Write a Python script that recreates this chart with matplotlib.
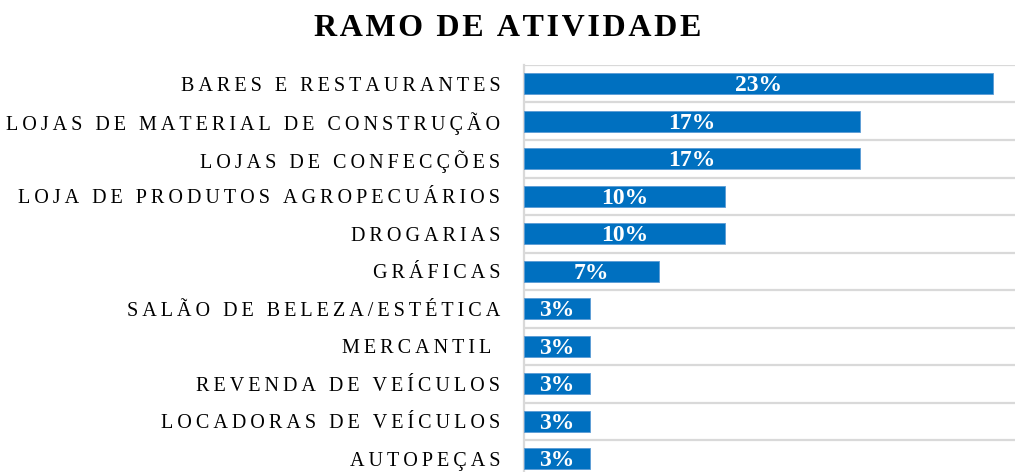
import matplotlib.pyplot as plt

categories = [
    "BARES E RESTAURANTES",
    "LOJAS DE MATERIAL DE CONSTRUÇÃO",
    "LOJAS DE CONFECÇÕES",
    "LOJA DE PRODUTOS AGROPECUÁRIOS",
    "DROGARIAS",
    "GRÁFICAS",
    "SALÃO DE BELEZA/ESTÉTICA",
    "MERCANTIL ",
    "REVENDA DE VEÍCULOS",
    "LOCADORAS DE VEÍCULOS",
    "AUTOPEÇAS",
]
shares = [23.3, 16.7, 16.7, 10.0, 10.0, 6.7, 3.3, 3.3, 3.3, 3.3, 3.3]
value_labels = ["23%", "17%", "17%", "10%", "10%", "7%", "3%", "3%", "3%", "3%", "3%"]

serif = ["Liberation Serif", "DejaVu Serif"]
blue = "#0070C0"
grid_gray = "#D9D9D9"


def spaced(text, gap="\u2009"):
    # crude letter spacing: a narrow space between characters
    return gap.join(text)


fig = plt.figure(figsize=(10.15, 4.72), dpi=100)
ax = fig.add_axes([0.516, -0.0117, 0.484, 0.874])

n = len(categories)
y = list(range(n))
ax.barh(y, shares, height=0.56, color=blue, edgecolor="#5B9BD5", linewidth=0.6, zorder=3)

for yi, val, lab in zip(y, shares, value_labels):
    ax.text(val / 2, yi + 0.05, lab, ha="center", va="center", color="white",
            fontsize=17, fontweight="bold", fontstyle="normal", family=serif, zorder=4)

ax.set_ylim(n - 0.5, -0.5)
ax.set_xlim(0, 24.4)

# horizontal gridlines between categories
for b in range(n + 1):
    ax.axhline(b - 0.5, color=grid_gray, linewidth=1.6, zorder=1)

ax.set_yticks(y)
ax.set_yticklabels([spaced(c) for c in categories], family=serif, fontsize=14.5)
ax.tick_params(axis="y", length=0, pad=17)
ax.set_xticks([])

for side in ["top", "right", "bottom"]:
    ax.spines[side].set_visible(False)
ax.spines["left"].set_color(grid_gray)
ax.spines["left"].set_linewidth(1.6)

fig.text(0.5, 0.924, spaced("RAMO DE ATIVIDADE", "\u200a"), ha="center", va="baseline",
         fontsize=23, fontweight="bold", fontstyle="normal", family=serif)

fig.savefig("out.png", dpi=100)
